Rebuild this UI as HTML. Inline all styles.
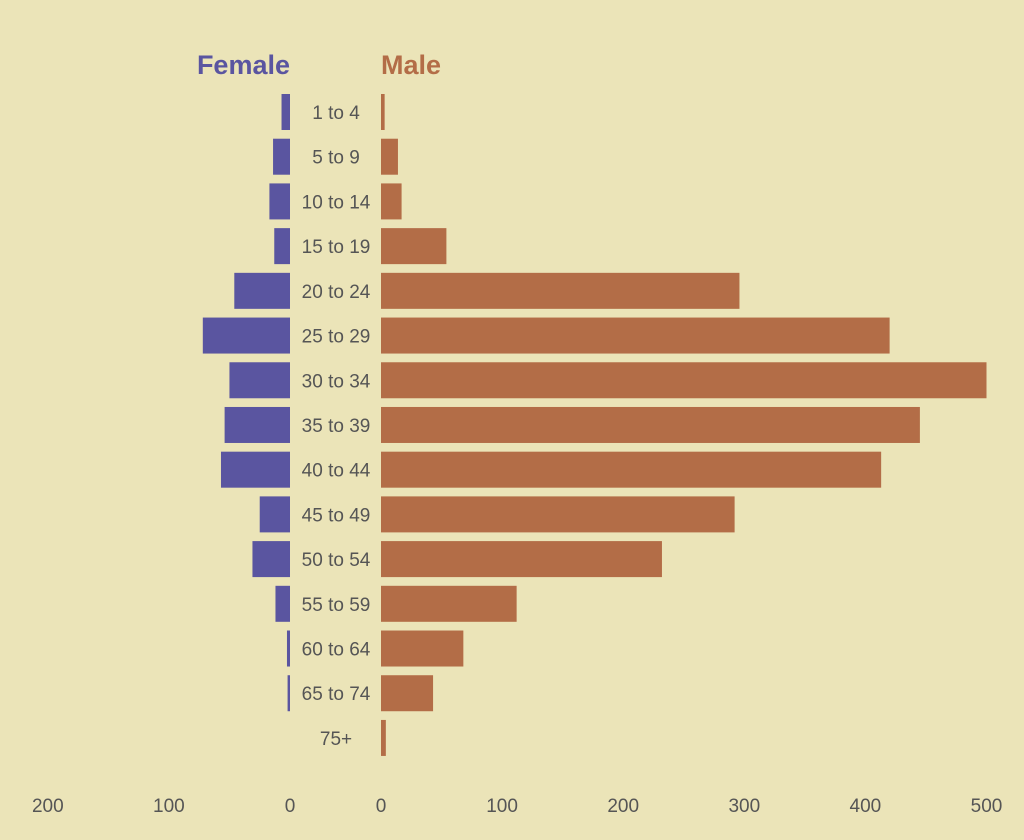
<!DOCTYPE html>
<html><head><meta charset="utf-8"><style>
html,body{margin:0;padding:0;background:#ebe4b8;}
svg{display:block;font-family:"Liberation Sans",sans-serif;}
</style></head><body>
<svg id="chart" width="1024" height="840" xmlns="http://www.w3.org/2000/svg">
<rect width="1024" height="840" fill="#ebe4b8"/>
<text x="290" y="74" text-anchor="end" font-size="27" font-weight="bold" fill="#5a55a0">Female</text>
<text x="381" y="74" font-size="27" font-weight="bold" fill="#b36d47">Male</text>
<g id="bars"></g>
<g id="ticks"></g>
</svg>
<script>
const categories = ["1 to 4","5 to 9","10 to 14","15 to 19","20 to 24","25 to 29","30 to 34","35 to 39","40 to 44","45 to 49","50 to 54","55 to 59","60 to 64","65 to 74","75+"];
const femaleValues = [7,14,17,13,46,72,50,54,57,25,31,12,2.5,2,0];
const maleValues = [3,14,17,54,296,420,500,445,413,292,232,112,68,43,4];
const femaleTicks = [200,100,0];
const maleTicks = [0,100,200,300,400,500];

const NS="http://www.w3.org/2000/svg";
const scale=1.211;
const fx=v=>290-v*scale;
const mx=v=>381+v*scale;
const yc=i=>112+i*44.71;
const bh=36;
const bars=document.getElementById('bars');
const ticks=document.getElementById('ticks');
function mk(tag,attrs,parent){const e=document.createElementNS(NS,tag);for(const k in attrs)e.setAttribute(k,attrs[k]);parent.appendChild(e);return e;}
categories.forEach((c,i)=>{
  const f=mk('rect',{x:fx(femaleValues[i]),y:yc(i)-bh/2,width:femaleValues[i]*scale,height:bh,fill:'#5a55a0'},bars);
  
  
  const m=mk('rect',{x:381,y:yc(i)-bh/2,width:maleValues[i]*scale,height:bh,fill:'#b36d47'},bars);
  
  
  const t=mk('text',{x:336,y:yc(i)+7,'text-anchor':'middle','font-size':19,fill:'#555'},bars);
  t.textContent=c;
  
  
});
femaleTicks.forEach(v=>{
  const t=mk('text',{x:fx(v),y:812,'text-anchor':'middle','font-size':19,fill:'#555'},ticks);
  t.textContent=v;
  
  
});
maleTicks.forEach(v=>{
  const t=mk('text',{x:mx(v),y:812,'text-anchor':'middle','font-size':19,fill:'#555'},ticks);
  t.textContent=v;
  
  
});
</script>
</body></html>
